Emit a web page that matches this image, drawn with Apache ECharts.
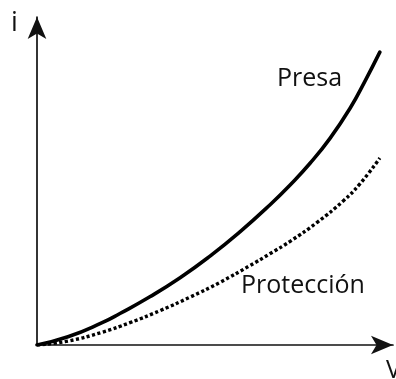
<!DOCTYPE html>
<html>
<head>
<meta charset="utf-8">
<script src="https://cdn.jsdelivr.net/npm/echarts@6/dist/echarts.min.js"></script>
<style>
  html, body { margin: 0; padding: 0; background: #fff; }
  #chart { width: 396px; height: 379px; }
</style>
</head>
<body>
<div id="chart"></div>
<script>
// Current–voltage characteristic of the dam ("Presa"), relative units
const voltagePresa = [0, 8.7, 18.3, 23.3, 31.7, 40.2, 48.6, 57.0, 65.4, 71.1, 76.7, 82.3, 87.9, 92.1, 96.3];
const currentPresa = [0, 2.5, 6.8, 9.6, 14.7, 20.5, 27.1, 34.5, 42.7, 48.8, 55.4, 63.0, 72.1, 80.4, 89.3];

// Current–voltage characteristic of the protection ("Protección"), relative units
const voltageProteccion = [0, 8.7, 18.3, 26.1, 34.6, 43.0, 51.4, 59.8, 65.4, 71.1, 78.7, 86.0, 90.7, 96.3];
const currentProteccion = [0, 1.2, 3.9, 6.8, 10.5, 14.6, 19.1, 24.2, 27.8, 31.6, 37.4, 43.9, 49.1, 57.0];

const seriesNames = ['Presa', 'Protección'];
const axisNames = ['V', 'i'];

const pairs = (xs, ys) => xs.map((x, k) => [x, ys[k]]);

const chart = echarts.init(document.getElementById('chart'), null, { renderer: 'canvas' });

const axisCommon = {
  type: 'value',
  min: 0,
  max: 100,
  axisLabel: { show: false },
  axisTick: { show: false },
  splitLine: { show: false },
  axisLine: {
    show: true,
    symbol: ['none', 'arrow'],
    symbolSize: [14, 22],
    lineStyle: { color: '#111', width: 1.7 }
  }
};

const label = (t, x, y, size) => ({
  type: 'text',
  left: x,
  top: y,
  style: {
    text: t,
    fill: '#111',
    font: size + 'px "Open Sans", sans-serif'
  }
});

chart.setOption({
  animation: false,
  backgroundColor: '#ffffff',
  grid: { left: 37, right: 3, top: 17, bottom: 34 },
  xAxis: Object.assign({}, axisCommon),
  yAxis: Object.assign({}, axisCommon),
  series: [
    {
      name: seriesNames[0],
      type: 'line',
      data: pairs(voltagePresa, currentPresa),
      smooth: 0.5,
      symbol: 'none',
      lineStyle: { color: '#000', width: 3.6, cap: 'round' }
    },
    {
      name: seriesNames[1],
      type: 'line',
      data: pairs(voltageProteccion, currentProteccion),
      smooth: 0.5,
      symbol: 'none',
      lineStyle: { color: '#000', width: 3.4, type: [3.2, 2.4], cap: 'butt' }
    }
  ],
  graphic: [
    label(axisNames[1], 11, 10, 27),
    label(axisNames[0], 386, 358, 25),
    label(seriesNames[0], 277, 66, 25),
    label(seriesNames[1], 241, 273, 25)
  ]
});
</script>
</body>
</html>
